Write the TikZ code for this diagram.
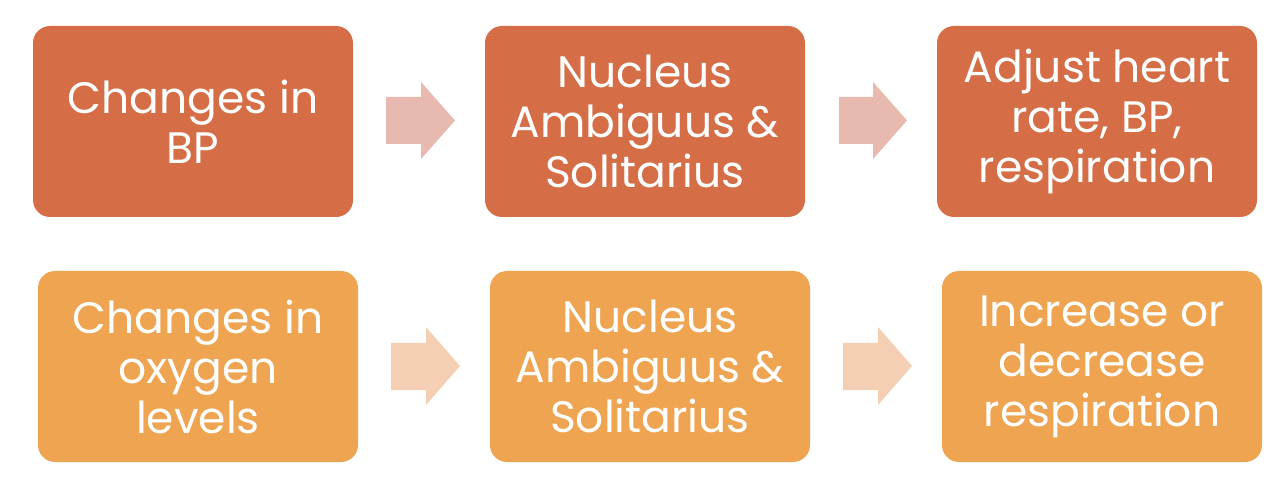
\documentclass[tikz,border=0pt]{standalone}
\usepackage{fontspec}
\setmainfont{Poppins}
\definecolor{topbox}{HTML}{D56E46}
\definecolor{toparrow}{HTML}{E8B9AE}
\definecolor{botbox}{HTML}{EEA451}
\definecolor{botarrow}{HTML}{F4CFB3}
\begin{document}
\begin{tikzpicture}[x=1pt,y=-1pt,
  box/.style={rounded corners=17pt, minimum width=320pt, minimum height=191pt,
    inner sep=0pt, text=white, align=center,
    font=\fontsize{44}{50}\selectfont},
  topstyle/.style={box, fill=topbox},
  botstyle/.style={box, fill=botbox}]
\useasboundingbox (0,0) rectangle (1288,478);
\node[topstyle] (t1) at (193,121.5) {Changes in\\BP};
\node[topstyle] (t2) at (645,121.5) {Nucleus\\Ambiguus \&\\Solitarius};
\node[topstyle] (t3) at (1097,121.5) {Adjust heart\\rate, BP,\\respiration};
\node[botstyle] (b1) at (198,366.5) {Changes in\\oxygen\\levels};
\node[botstyle] (b2) at (650,366.5) {Nucleus\\Ambiguus \&\\Solitarius};
\node[botstyle] (b3) at (1102,366.5) {Increase or\\decrease\\respiration};
% arrows
\fill[toparrow] (386,97) -- (421,97) -- (421,82) -- (455,120.5) -- (421,159) -- (421,144) -- (386,144) -- cycle;
\fill[toparrow] (839,97) -- (873,97) -- (873,82) -- (907,120.5) -- (873,159) -- (873,144) -- (839,144) -- cycle;
\fill[botarrow] (391,343) -- (426,343) -- (426,327) -- (460,366) -- (426,405) -- (426,390) -- (391,390) -- cycle;
\fill[botarrow] (843,343) -- (878,343) -- (878,327) -- (912,366) -- (878,405) -- (878,390) -- (843,390) -- cycle;
\end{tikzpicture}
\end{document}
